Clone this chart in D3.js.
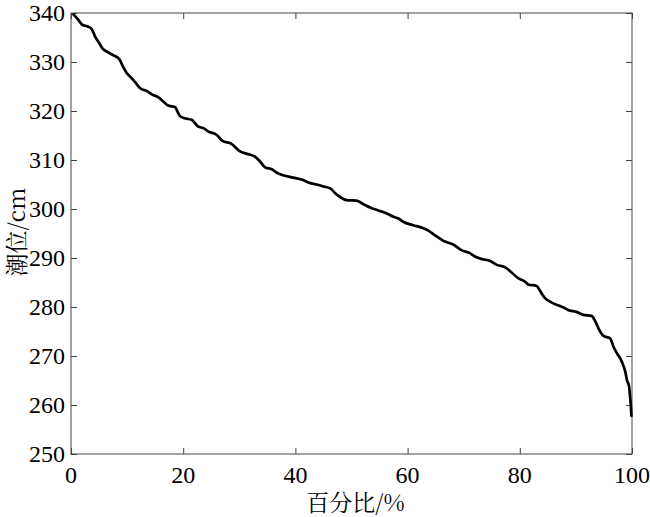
<!DOCTYPE html>
<html><head><meta charset="utf-8">
<script src="https://cdn.jsdelivr.net/npm/d3@7"></script>
<style>body{margin:0;background:#fff;}svg{display:block;}</style>
</head><body>
<script>
const pct = [0.3,0.53,1.3,2.0,3.1,3.7,4.3,4.9,5.6,6.4,7.5,8.6,9.3,9.9,10.8,11.7,12.4,13.5,14.4,15.6,16.5,17.3,18.5,19.4,20.3,21.5,22.7,23.6,24.5,26.0,27.0,28.6,30.2,31.6,32.8,33.7,34.6,35.8,36.7,37.8,39.6,41.4,42.3,43.8,45.0,46.2,47.1,47.9,49.1,50.9,52.1,53.3,54.8,56.3,57.5,58.3,59.2,61.0,62.5,63.7,64.9,66.4,68.2,69.6,71.1,72.0,73.2,74.7,75.9,77.4,78.6,79.7,80.9,81.5,83.0,83.6,84.5,85.7,86.9,87.8,88.6,90.1,91.3,92.8,93.4,94.0,94.9,96.1,96.7,97.3,98.2,98.8,99.1,99.5,99.6,99.8,99.9];
const level = [339.8,339.6,338.6,337.6,337.2,336.7,335.2,334.1,332.8,332.1,331.4,330.6,329.0,327.8,326.7,325.5,324.6,324.1,323.4,322.8,321.9,321.1,320.8,319.0,318.5,318.2,316.8,316.5,315.8,315.1,313.9,313.3,311.7,311.2,310.7,309.7,308.5,308.1,307.4,306.9,306.4,305.9,305.4,305.0,304.6,304.2,303.2,302.5,301.8,301.7,301.0,300.3,299.7,299.1,298.4,298.1,297.4,296.7,296.2,295.6,294.6,293.5,292.7,291.6,291.0,290.3,289.8,289.4,288.6,288.1,287.0,285.9,285.2,284.6,284.3,283.3,281.8,280.9,280.3,279.9,279.4,279.0,278.4,278.2,277.2,275.7,274.1,273.6,271.9,270.6,268.8,266.8,265.1,263.7,262.4,259.7,257.6];
const xTicks = [0,20,40,60,80,100];
const yTicks = [250,260,270,280,290,300,310,320,330,340];
const xLabel = "百分比/%";
const yLabel = "潮位/cm";

const W = 650, H = 517;
const m = {left:71, right:18, top:13, bottom:63};
const svg = d3.select("body").append("svg").attr("width",W).attr("height",H);
const x = d3.scaleLinear().domain([0,100]).range([m.left, W-m.right]);
const y = d3.scaleLinear().domain([250,340]).range([H-m.bottom, m.top]);
const axColor = "#444";
const serif = "Liberation Serif";
const cjk = "Noto Serif CJK SC";

function styleAxis(g){
  g.attr("font-family",null).attr("font-size",null);
  g.select(".domain").remove();
  g.selectAll(".tick line").attr("stroke",axColor).attr("stroke-width",1);
  g.selectAll(".tick text").remove();
}
svg.append("g").attr("transform",`translate(0,${y(250)})`)
  .call(d3.axisBottom(x).tickValues(xTicks).tickSize(-6)).call(styleAxis);
svg.append("g").attr("transform",`translate(0,${y(340)})`)
  .call(d3.axisTop(x).tickValues(xTicks).tickSize(-6)).call(styleAxis);
svg.append("g").attr("transform",`translate(${x(0)},0)`)
  .call(d3.axisLeft(y).tickValues(yTicks).tickSize(-6)).call(styleAxis);
svg.append("g").attr("transform",`translate(${x(100)},0)`)
  .call(d3.axisRight(y).tickValues(yTicks).tickSize(-6)).call(styleAxis);

// tick labels placed through the scales
svg.append("g").selectAll("text").data(xTicks).join("text")
  .attr("x",d=>x(d)).attr("y",y(250)+29).attr("text-anchor","middle")
  .attr("font-family",serif).attr("font-size",24).attr("fill","#000").text(d=>d);
svg.append("g").selectAll("text").data(yTicks).join("text")
  .attr("x",x(0)-6).attr("y",d=>y(d)).attr("dy","0.35em").attr("text-anchor","end")
  .attr("font-family",serif).attr("font-size",24).attr("fill","#000").text(d=>d);

svg.append("rect").attr("x",x(0)).attr("y",y(340)).attr("width",x(100)-x(0)).attr("height",y(250)-y(340))
  .attr("fill","none").attr("stroke",axColor).attr("stroke-width",1);

const data = pct.map((p,i)=>[p,level[i]]);
svg.append("path").datum(data)
  .attr("fill","none").attr("stroke","#000").attr("stroke-width",2.7).attr("stroke-linejoin","round")
  .attr("d", d3.line().x(d=>x(d[0])).y(d=>y(d[1])).curve(d3.curveMonotoneX));

svg.append("text").attr("x",(x(0)+x(100))/2 + 4).attr("y",511)
  .attr("text-anchor","middle").attr("font-family",cjk).attr("font-size",23).text(xLabel);
svg.append("text").attr("transform",`translate(17,232) rotate(-90)`)
  .attr("text-anchor","middle").attr("dy","0.35em").attr("font-family",cjk).attr("font-size",23).text(yLabel);
</script>
</body></html>
